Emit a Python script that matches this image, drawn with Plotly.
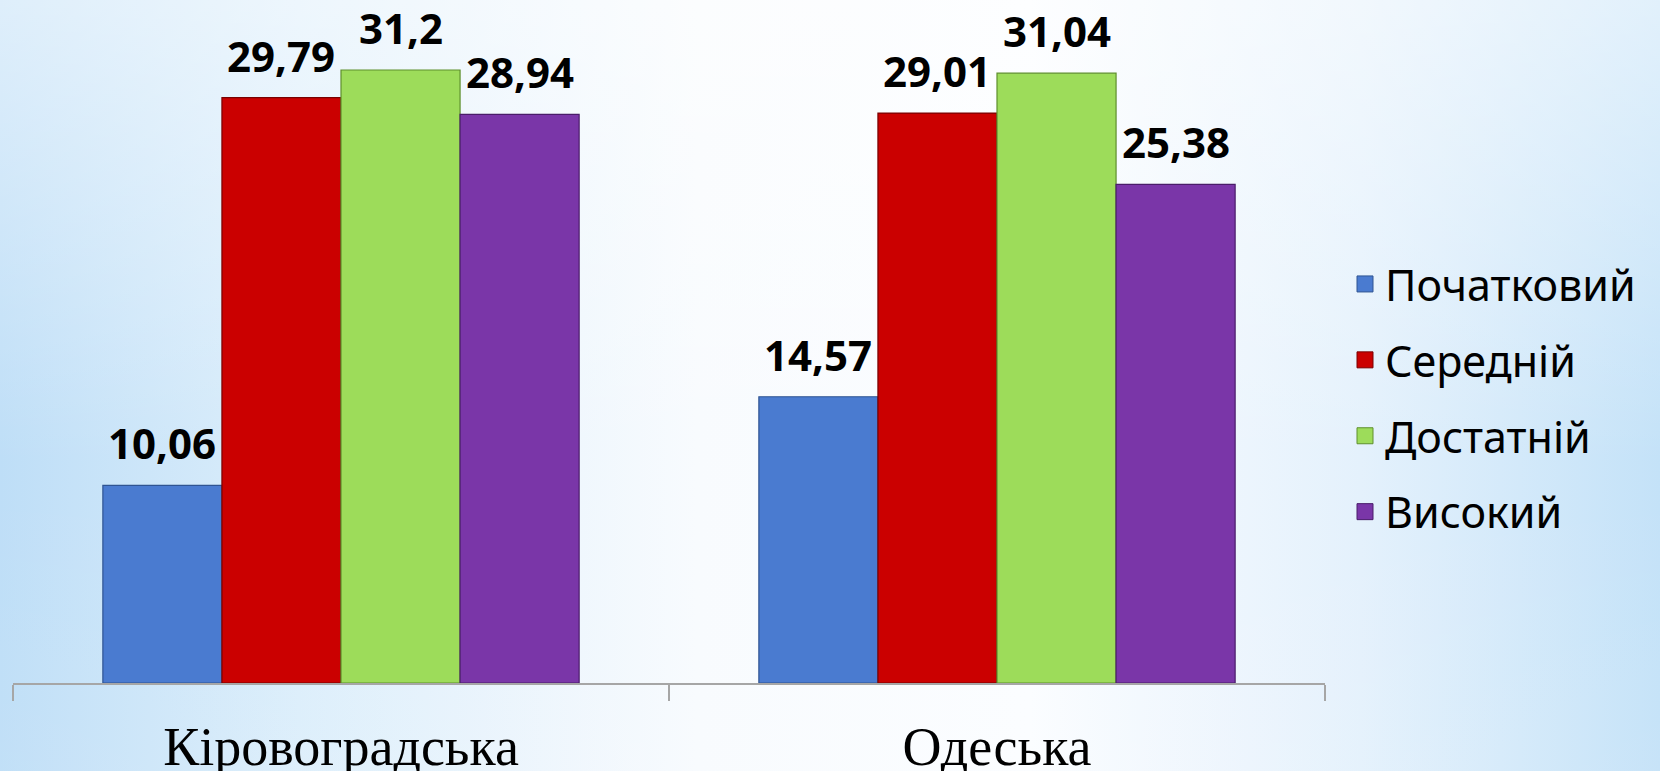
import base64
import plotly.graph_objects as go

categories = ["Кіровоградська", "Одеська"]
series_names = ["Початковий", "Середній", "Достатній", "Високий"]
val_pochatkovyi = [10.06, 14.57]
val_serednii = [29.79, 29.01]
val_dostatnii = [31.2, 31.04]
val_vysokyi = [28.94, 25.38]
series_values = [val_pochatkovyi, val_serednii, val_dostatnii, val_vysokyi]

colors = ["#4a7bd0", "#cb0000", "#9ddc5a", "#7a36a8"]
edge_colors = ["#2f5492", "#7a0000", "#5e8f2c", "#4a1d6a"]

W, H = 1660, 771
ML, MR, MT, MB = 13, 335, 15, 88
plot_w = W - ML - MR
plot_h = H - MT - MB
BARGAP = 0.274
bar_px = plot_w / len(categories) * (1 - BARGAP) / len(series_names)


def fmt(v):
    s = f"{v:.2f}".rstrip("0").rstrip(".")
    return s.replace(".", ",")


svg = f"""<svg xmlns='http://www.w3.org/2000/svg' width='{W}' height='{H}' viewBox='0 0 {W} {H}' preserveAspectRatio='none'>
<defs>
<linearGradient id='h' x1='0' y1='0' x2='1' y2='0'>
<stop offset='0' stop-color='#bedef7'/>
<stop offset='0.18' stop-color='#dceefb'/>
<stop offset='0.42' stop-color='#f8fbfe'/>
<stop offset='0.62' stop-color='#fbfdff'/>
<stop offset='0.82' stop-color='#e4f1fc'/>
<stop offset='1' stop-color='#c4e2f8'/>
</linearGradient>
<linearGradient id='v' x1='0' y1='0' x2='0' y2='1'>
<stop offset='0' stop-color='#ffffff' stop-opacity='0.5'/>
<stop offset='0.3' stop-color='#ffffff' stop-opacity='0.25'/>
<stop offset='0.6' stop-color='#ffffff' stop-opacity='0'/>
<stop offset='1' stop-color='#ffffff' stop-opacity='0.05'/>
</linearGradient>
</defs>
<rect x='0' y='0' width='{W}' height='{H}' fill='url(#h)'/>
<rect x='0' y='0' width='{W}' height='{H}' fill='url(#v)'/>
</svg>"""
bg_uri = "data:image/svg+xml;base64," + base64.b64encode(svg.encode("utf-8")).decode("ascii")

fig = go.Figure()

for i, (name, vals) in enumerate(zip(series_names, series_values)):
    fig.add_trace(go.Bar(
        x=categories, y=vals, name=name, showlegend=False,
        marker=dict(color=colors[i], line=dict(color=edge_colors[i], width=1.2)),
        hoverinfo="skip",
    ))

for i, name in enumerate(series_names):
    fig.add_trace(go.Scatter(
        x=[None], y=[None], mode="markers", name=name, legendgroup=name,
        marker=dict(symbol="square", size=16, color=colors[i],
                    line=dict(color=edge_colors[i], width=1)),
    ))

annotations = []
for i, vals in enumerate(series_values):
    for cat, v in zip(categories, vals):
        annotations.append(dict(
            x=cat, y=v, xref="x", yref="y", text=fmt(v), showarrow=False,
            xshift=(i - (len(series_names) - 1) / 2) * bar_px,
            yanchor="bottom", yshift=12,
            font=dict(family="Noto Sans", size=42, color="black", weight="bold"),
        ))

fig.update_layout(
    width=W, height=H,
    margin=dict(l=ML, r=MR, t=MT, b=MB, autoexpand=False),
    paper_bgcolor="white",
    plot_bgcolor="rgba(0,0,0,0)",
    barmode="group", bargap=BARGAP, bargroupgap=0,
    showlegend=True,
    legend=dict(
        xref="container", yref="container", x=1345 / W, y=1 - 398 / H,
        xanchor="left", yanchor="middle",
        font=dict(family="Noto Sans", size=43, color="black"),
        tracegroupgap=17, bgcolor="rgba(0,0,0,0)", itemclick=False,
    ),
    annotations=annotations,
    images=[dict(
        source=bg_uri, xref="paper", yref="paper",
        x=-ML / plot_w, y=1 + MT / plot_h, sizex=W / plot_w, sizey=H / plot_h,
        xanchor="left", yanchor="top", sizing="stretch", layer="below",
    )],
    xaxis=dict(
        showline=True, linecolor="#a6a6a6", linewidth=1.5,
        ticks="outside", tickson="boundaries", ticklen=16, tickcolor="#a6a6a6", tickwidth=1.5,
        tickfont=dict(family="Liberation Serif", size=54, color="black"),
        ticklabelstandoff=15, automargin=False,
        showgrid=False, zeroline=False, fixedrange=True,
    ),
    yaxis=dict(
        range=[0, 34], visible=False, showgrid=False, zeroline=False, fixedrange=True,
        automargin=False,
    ),
)

fig.write_html(
    "out.html",
    config={"displayModeBar": False},
    post_script="document.body.style.margin='0';document.body.style.overflow='hidden';",
)
